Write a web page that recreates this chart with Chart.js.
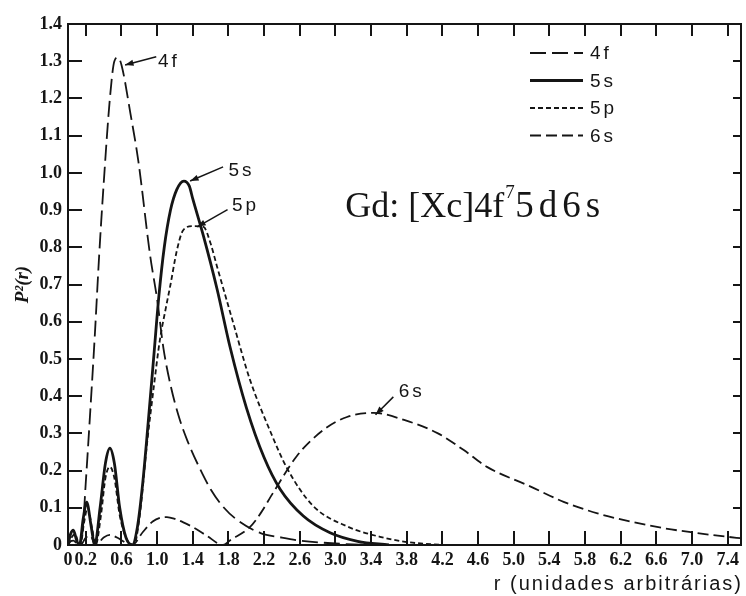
<!DOCTYPE html>
<html>
<head>
<meta charset="utf-8">
<script src="https://cdn.jsdelivr.net/npm/chart.js@4"></script>
<style>
  html, body { margin: 0; padding: 0; background: #fff; }
  #wrap { width: 746px; height: 596px; position: relative; }
</style>
</head>
<body>
<div id="wrap"><canvas id="radialChart"></canvas></div>
<script>
// ===== DATA =====
const xTickValues = [0, 0.2, 0.6, 1.0, 1.4, 1.8, 2.2, 2.6, 3.0, 3.4, 3.8, 4.2, 4.6, 5.0, 5.4, 5.8, 6.2, 6.6, 7.0, 7.4];
const yTickValues = [0, 0.1, 0.2, 0.3, 0.4, 0.5, 0.6, 0.7, 0.8, 0.9, 1.0, 1.1, 1.2, 1.3, 1.4];

// 4f
const r4f = [0, 0.1, 0.16, 0.2, 0.25, 0.3, 0.35, 0.4, 0.47, 0.52, 0.56, 0.6, 0.7, 0.79, 0.92, 1.0, 1.07, 1.15, 1.25, 1.34, 1.47, 1.6, 1.75, 1.9, 2.16, 2.4, 2.6, 3.0, 3.4];
const p4f = [0, 0, 0.03, 0.17, 0.36, 0.56, 0.78, 0.97, 1.2, 1.3, 1.31, 1.29, 1.16, 1.03, 0.78, 0.66, 0.53, 0.43, 0.34, 0.28, 0.21, 0.15, 0.1, 0.067, 0.032, 0.02, 0.012, 0.004, 0];

// 5s
const r5s = [0, 0.03, 0.06, 0.1, 0.13, 0.17, 0.21, 0.26, 0.3, 0.36, 0.42, 0.47, 0.52, 0.58, 0.65, 0.72, 0.78, 0.84, 0.9, 0.96, 1.02, 1.08, 1.15, 1.22, 1.3, 1.36, 1.4, 1.52, 1.67, 1.82, 2.0, 2.2, 2.38, 2.64, 2.94, 3.25, 3.6];
const p5s = [0, 0.03, 0.04, 0.01, 0, 0.07, 0.115, 0.05, 0, 0.1, 0.22, 0.26, 0.22, 0.1, 0.02, 0, 0.05, 0.17, 0.33, 0.5, 0.67, 0.8, 0.9, 0.955, 0.978, 0.965, 0.93, 0.83, 0.69, 0.53, 0.37, 0.235, 0.15, 0.078, 0.033, 0.01, 0];

// 5p
const r5p = [0, 0.04, 0.08, 0.11, 0.14, 0.18, 0.22, 0.27, 0.31, 0.37, 0.42, 0.47, 0.52, 0.58, 0.66, 0.74, 0.8, 0.89, 0.96, 1.03, 1.1, 1.15, 1.22, 1.29, 1.4, 1.52, 1.6, 1.67, 1.85, 2.04, 2.27, 2.46, 2.75, 3.13, 3.5, 3.8, 4.2];
const p5p = [0, 0.02, 0.03, 0.01, 0, 0.06, 0.1, 0.045, 0, 0.08, 0.18, 0.21, 0.18, 0.08, 0.015, 0, 0.07, 0.28, 0.42, 0.55, 0.64, 0.7, 0.79, 0.845, 0.857, 0.855, 0.81, 0.75, 0.6, 0.445, 0.305, 0.205, 0.105, 0.05, 0.022, 0.008, 0];

// 6s
const r6s = [0, 0.03, 0.06, 0.1, 0.14, 0.2, 0.25, 0.31, 0.4, 0.47, 0.55, 0.65, 0.72, 0.84, 0.95, 1.05, 1.11, 1.2, 1.3, 1.4, 1.55, 1.74, 1.82, 2.04, 2.16, 2.3, 2.57, 2.87, 3.13, 3.43, 3.77, 4.15, 4.44, 4.7, 5.19, 5.56, 5.94, 6.31, 6.69, 7.06, 7.4, 7.55];
const p6s = [0, 0.01, 0.012, 0.004, 0, 0.02, 0.025, 0, 0.02, 0.027, 0.02, 0.006, 0, 0.035, 0.063, 0.074, 0.075, 0.07, 0.06, 0.048, 0.026, 0, 0.013, 0.048, 0.085, 0.14, 0.24, 0.31, 0.344, 0.355, 0.336, 0.3, 0.255, 0.21, 0.157, 0.116, 0.085, 0.063, 0.045, 0.032, 0.022, 0.018];

// arrow labels: text position + arrow tail/tip, in data units
const curveLabels = [
  { text: '4f', tx: 1.01, ty: 1.298, ax: 0.99, ay: 1.312, bx: 0.64, by: 1.29 },
  { text: '5s', tx: 1.80, ty: 1.005, ax: 1.74, ay: 1.016, bx: 1.37, by: 0.978 },
  { text: '5p', tx: 1.84, ty: 0.911, ax: 1.79, ay: 0.901, bx: 1.45, by: 0.855 },
  { text: '6s', tx: 3.71, ty: 0.411, ax: 3.65, ay: 0.398, bx: 3.45, by: 0.35 }
];

const INK = '#151515';
const SANS = '"Liberation Sans", Arial, sans-serif';
const SERIF = '"Liberation Serif", "Times New Roman", serif';

function pts(rs, ps) {
  return rs.map((r, i) => ({ x: r, y: ps[i] }));
}

function fmtTick(v) {
  return v === 0 ? '0' : Number(v).toFixed(1);
}

function seg(ctx, x1, y1, x2, y2) {
  ctx.beginPath();
  ctx.moveTo(x1, y1);
  ctx.lineTo(x2, y2);
  ctx.stroke();
}

// inward tick marks come from the axes' own grid (negative tickLength)
function inwardGrid(len) {
  return { display: true, drawOnChartArea: false, drawTicks: true, tickLength: -len, color: INK, lineWidth: 2 };
}

// frame, legend, labels, formula
const decorPlugin = {
  id: 'decor',
  afterDraw(chart) {
    const { ctx, chartArea: a, scales: { x, y } } = chart;
    ctx.save();
    ctx.strokeStyle = INK;
    ctx.fillStyle = INK;
    ctx.lineWidth = 2;
    ctx.setLineDash([]);

    // frame
    ctx.strokeRect(a.left, a.top, a.right - a.left, a.bottom - a.top);

    // legend (top right)
    ctx.font = '19px ' + SANS;
    ctx.letterSpacing = '3px';
    ctx.textBaseline = 'middle';
    ctx.textAlign = 'left';
    chart.data.datasets.forEach((ds, i) => {
      const ly = a.top + 29 + i * 27.5;
      ctx.lineWidth = ds.borderWidth;
      ctx.setLineDash(ds.borderDash || []);
      seg(ctx, a.right - 211, ly, a.right - 158, ly);
      ctx.setLineDash([]);
      ctx.fillText(ds.label, a.right - 151, ly + 1);
    });

    // curve labels with arrows
    ctx.lineWidth = 1.5;
    curveLabels.forEach(l => {
      const x1 = x.getPixelForValue(l.ax), y1 = y.getPixelForValue(l.ay);
      const x2 = x.getPixelForValue(l.bx), y2 = y.getPixelForValue(l.by);
      seg(ctx, x1, y1, x2, y2);
      const ang = Math.atan2(y2 - y1, x2 - x1);
      ctx.beginPath();
      ctx.moveTo(x2, y2);
      ctx.lineTo(x2 - 9 * Math.cos(ang - 0.35), y2 - 9 * Math.sin(ang - 0.35));
      ctx.lineTo(x2 - 9 * Math.cos(ang + 0.35), y2 - 9 * Math.sin(ang + 0.35));
      ctx.closePath();
      ctx.fill();
      ctx.fillText(l.text, x.getPixelForValue(l.tx), y.getPixelForValue(l.ty));
    });

    // x axis title
    ctx.textAlign = 'right';
    ctx.textBaseline = 'alphabetic';
    ctx.font = '20px ' + SANS;
    ctx.letterSpacing = '2px';
    ctx.fillText('r (unidades arbitrárias)', a.right + 2, chart.height - 6);

    // electron configuration
    ctx.letterSpacing = '0px';
    ctx.textAlign = 'left';
    let gx = x.getPixelForValue(3.11);
    const gy = y.getPixelForValue(0.882);
    ctx.font = '36px ' + SERIF;
    ctx.fillText('Gd: [Xc]4f', gx, gy);
    gx += ctx.measureText('Gd: [Xc]4f').width;
    ctx.font = '19px ' + SERIF;
    ctx.fillText('7', gx + 1, gy - 19);
    gx += 11;
    ctx.font = '37px ' + SERIF;
    ctx.letterSpacing = '5px';
    ctx.fillText('5d6s', gx, gy);
    ctx.restore();
  }
};

const tickFont = { family: SERIF, size: 18, weight: 'bold' };

const cfg = {
  type: 'line',
  data: {
    datasets: [
      { label: '4f', data: pts(r4f, p4f), borderColor: INK, borderWidth: 1.8, borderDash: [16, 6] },
      { label: '5s', data: pts(r5s, p5s), borderColor: INK, borderWidth: 2.8, borderDash: [] },
      { label: '5p', data: pts(r5p, p5p), borderColor: INK, borderWidth: 1.8, borderDash: [5, 3] },
      { label: '6s', data: pts(r6s, p6s), borderColor: INK, borderWidth: 1.8, borderDash: [11, 5] }
    ]
  },
  options: {
    responsive: true,
    maintainAspectRatio: false,
    animation: false,
    layout: { padding: { top: 24, right: 5, left: 0, bottom: 0 } },
    elements: {
      point: { radius: 0 },
      line: { cubicInterpolationMode: 'monotone', fill: false }
    },
    plugins: {
      legend: { display: false },
      tooltip: { enabled: false }
    },
    scales: {
      x: {
        type: 'linear',
        position: 'bottom',
        min: 0,
        max: 7.55,
        grid: inwardGrid(14),
        border: { display: false },
        afterBuildTicks: s => { s.ticks = xTickValues.map(v => ({ value: v })); },
        // fixed height; drop the label overhang padding so the plot keeps its width
        afterFit: s => { s.height = 51; s.paddingLeft = 0; s.paddingRight = 0; },
        ticks: {
          autoSkip: false,
          maxRotation: 0,
          padding: 19,
          color: INK,
          font: tickFont,
          callback: v => fmtTick(v)
        }
      },
      xTop: {
        type: 'linear',
        position: 'top',
        min: 0,
        max: 7.55,
        grid: inwardGrid(12),
        border: { display: false },
        afterBuildTicks: s => { s.ticks = xTickValues.map(v => ({ value: v })); },
        afterFit: s => { s.height = 0; },
        ticks: { display: false }
      },
      y: {
        position: 'left',
        min: 0,
        max: 1.4,
        grid: inwardGrid(14),
        border: { display: false },
        afterBuildTicks: s => { s.ticks = yTickValues.map(v => ({ value: v })); },
        afterFit: s => { s.width = 68; s.paddingTop = 0; s.paddingBottom = 0; },
        ticks: {
          padding: 20,
          color: INK,
          font: tickFont,
          callback: v => fmtTick(v)
        },
        title: {
          display: true,
          text: 'P²(r)',
          color: INK,
          padding: { top: 12, bottom: 0 },
          font: { family: SERIF, size: 19, weight: 'bold', style: 'italic' }
        }
      },
      yRight: {
        position: 'right',
        min: 0,
        max: 1.4,
        grid: inwardGrid(8),
        border: { display: false },
        afterBuildTicks: s => { s.ticks = yTickValues.map(v => ({ value: v })); },
        afterFit: s => { s.width = 0; },
        ticks: { display: false }
      }
    }
  },
  plugins: [decorPlugin]
};

new Chart(document.getElementById('radialChart'), cfg);
</script>
</body>
</html>
